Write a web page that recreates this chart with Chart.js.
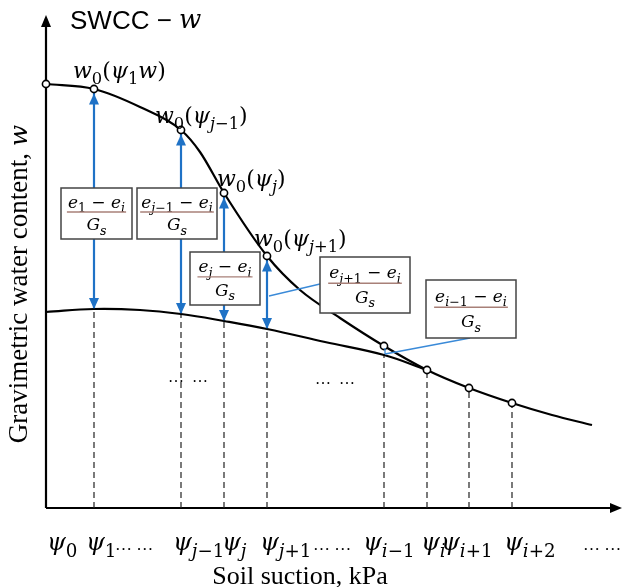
<!DOCTYPE html>
<html><head><meta charset="utf-8">
<script src="https://cdn.jsdelivr.net/npm/chart.js@4.4.1/dist/chart.umd.min.js"></script>
<style>html,body{margin:0;padding:0;background:#fff}#wrap{width:623px;height:587px;position:relative}</style>
</head><body><div id="wrap"><canvas id="c"></canvas></div>
<script>
// ---------- data ----------
const psiNames = ['ψ_{0}','ψ_{1}','ψ_{j−1}','ψ_{j}','ψ_{j+1}','ψ_{i−1}','ψ_{i}','ψ_{i+1}','ψ_{i+2}'];
const suction = [0, 4.8, 13.5, 17.8, 22.1, 33.8, 38.1, 42.3, 46.6];
const swccAtPsi = [42.4, 41.9, 37.8, 31.5, 25.2, 16.2, 13.8, 12.0, 10.5];
const swccSuction = [0, 4.8, 9.4, 13.5, 15.4, 17.8, 22.1, 25.4, 29.4, 33.8, 38.1, 42.3, 46.6, 50.6, 54.6];
const swccWater   = [42.4, 41.9, 40.1, 37.8, 35.6, 31.5, 25.2, 21.8, 19.0, 16.2, 13.8, 12.0, 10.5, 9.3, 8.3];
const baseSuction = [0, 4.8, 9.4, 13.5, 17.8, 22.1, 27.9, 33.8, 38.1];
const baseWater   = [19.6, 19.9, 19.8, 19.4, 18.7, 17.9, 16.6, 15.3, 13.8];
const dashTop     = [null, 19.9, 19.4, 18.7, 17.9, 15.3, 13.8, 12.0, 10.5];
const arrowIdx    = [1, 2, 3, 4];
const pointLabels = ['w_{0}(ψ_{1}w)', 'w_{0}(ψ_{j−1})', 'w_{0}(ψ_{j})', 'w_{0}(ψ_{j+1})'];
const boxNumerators = ['e_{1} − e_{i}', 'e_{j−1} − e_{i}', 'e_{j} − e_{i}', 'e_{j+1} − e_{i}', 'e_{i−1} − e_{i}'];
const boxDenominator = 'G_{s}';
const xTitle = 'Soil suction, kPa';
const yTitle = 'Gravimetric water content, ';
const chartTitle = 'SWCC − ';

// ---------- helpers ----------
const MATH_FONT = '"DejaVu Serif"';
function parseMath(s){
  const out=[]; let i=0;
  while(i<s.length){
    if(s[i]==='_' && s[i+1]==='{'){ const j=s.indexOf('}',i); for(const c of s.slice(i+2,j)) out.push({c,sub:true}); i=j+1; }
    else { out.push({c:s[i],sub:false}); i++; }
  }
  return out;
}
function mathItems(ctx,str,size,subRatio){
  const sub=size*(subRatio||0.72); let w=0;
  const items=parseMath(str).map(t=>{
    const it=/[A-Za-zα-ω]/.test(t.c);
    const f=(it?'italic ':'')+(t.sub?sub:size)+'px '+MATH_FONT;
    ctx.font=f; const wd=ctx.measureText(t.c).width; w+=wd;
    return {c:t.c,f,wd,dy:t.sub?size*0.28:0};
  });
  return {items,w};
}
function drawMath(ctx,str,x,cy,size,align,subRatio){
  const m=mathItems(ctx,str,size,subRatio);
  let cx = align==='center'? x-m.w/2 : (align==='right'? x-m.w : x);
  const base = cy + size*0.35;
  ctx.save(); ctx.fillStyle='#000'; ctx.textBaseline='alphabetic'; ctx.textAlign='left';
  m.items.forEach(it=>{ ctx.font=it.f; ctx.fillText(it.c,cx,base+it.dy); cx+=it.wd; });
  ctx.restore();
  return m.w;
}
function pts(xs,ys){ return xs.map((x,i)=>({x,y:ys[i]})); }

// ---------- datasets ----------
const datasets = [];
datasets.push({data: suction.map((s,i)=>({x:s,y:swccAtPsi[i]})), showLine:false, pointRadius:3.6,
  pointBackgroundColor:'#fff', pointBorderColor:'#000', pointBorderWidth:1.6, order:0});
datasets.push({data: pts(swccSuction,swccWater), showLine:true, borderColor:'#000', borderWidth:2.2,
  pointRadius:0, cubicInterpolationMode:'monotone', order:1});
datasets.push({data: pts(baseSuction,baseWater), showLine:true, borderColor:'#000', borderWidth:2.2,
  pointRadius:0, tension:0.4, order:1});
suction.forEach((s,i)=>{ if(dashTop[i]==null) return;
  datasets.push({data:[{x:s,y:0},{x:s,y:dashTop[i]}], showLine:true, borderColor:'#222', borderWidth:1.2,
    borderDash:[6,4], pointRadius:0, order:3});
});
arrowIdx.forEach(i=>{
  datasets.push({data:[{x:suction[i],y:dashTop[i]},{x:suction[i],y:swccAtPsi[i]}], showLine:true,
    borderColor:'#1f72c6', borderWidth:2.2, pointRadius:0, order:2});
});

// ---------- drawing plugin ----------
const schematic = {
  id:'schematic',
  beforeDatasetsDraw(chart,args,o){
    const ctx=chart.ctx, X=chart.scales.x, Y=chart.scales.y;
    const ox=X.getPixelForValue(0), oy=Y.getPixelForValue(0);
    const tx=X.getPixelForValue(o.xAxisEnd), ty=Y.getPixelForValue(o.yAxisEnd);
    ctx.save(); ctx.strokeStyle='#000'; ctx.fillStyle='#000'; ctx.lineWidth=2.2;
    ctx.beginPath(); ctx.moveTo(ox,oy); ctx.lineTo(ox,ty+10); ctx.stroke();
    ctx.beginPath(); ctx.moveTo(ox,oy); ctx.lineTo(tx-10,oy); ctx.stroke();
    ctx.beginPath(); ctx.moveTo(ox,ty); ctx.lineTo(ox-5,ty+12); ctx.lineTo(ox+5,ty+12); ctx.closePath(); ctx.fill();
    ctx.beginPath(); ctx.moveTo(tx,oy); ctx.lineTo(tx-12,oy-5); ctx.lineTo(tx-12,oy+5); ctx.closePath(); ctx.fill();
    ctx.restore();
  },
  afterDatasetsDraw(chart,args,o){
    const ctx=chart.ctx, X=chart.scales.x, Y=chart.scales.y;
    const px=v=>X.getPixelForValue(v), py=v=>Y.getPixelForValue(v);
    ctx.save();
    // leader lines
    ctx.strokeStyle='#3a8ad8'; ctx.lineWidth=1.3;
    o.leaders.forEach(l=>{ ctx.beginPath(); ctx.moveTo(px(l[0]),py(l[1])); ctx.lineTo(px(l[2]),py(l[3])); ctx.stroke(); });
    // arrowheads
    ctx.fillStyle='#1f72c6';
    arrowIdx.forEach(i=>{
      const x=px(suction[i]), yt=py(swccAtPsi[i])+4.5, yb=py(dashTop[i]);
      ctx.beginPath(); ctx.moveTo(x,yt); ctx.lineTo(x-5,yt+11); ctx.lineTo(x+5,yt+11); ctx.closePath(); ctx.fill();
      ctx.beginPath(); ctx.moveTo(x,yb); ctx.lineTo(x-5,yb-11); ctx.lineTo(x+5,yb-11); ctx.closePath(); ctx.fill();
    });
    // boxes
    o.boxes.forEach((b,k)=>{
      const l=px(b[0]), r=px(b[1]), t=py(b[3]), bt=py(b[2]), h=bt-t, cx=(l+r)/2;
      ctx.fillStyle='#fff'; ctx.fillRect(l,t,r-l,h);
      ctx.strokeStyle='#444'; ctx.lineWidth=1.5; ctx.strokeRect(l,t,r-l,h);
      const w=drawMath(ctx,boxNumerators[k],cx,t+h*0.27,17,'center',0.74);
      ctx.strokeStyle='#a88078'; ctx.lineWidth=1.4;
      ctx.beginPath(); ctx.moveTo(cx-w/2-1,t+h*0.47); ctx.lineTo(cx+w/2+1,t+h*0.47); ctx.stroke();
      drawMath(ctx,boxDenominator,cx,t+h*0.71,17,'center',0.74);
    });
    // point labels
    pointLabels.forEach((s,k)=>{ const a=o.labelAnchors[k]; drawMath(ctx,s,px(a[0]),py(a[1]),22,'left',0.74); });
    // dots inside plot
    o.plotDots.forEach(d=>{ ctx.fillStyle='#000'; ctx.font='16px "Liberation Serif"'; ctx.textAlign='left'; ctx.textBaseline='alphabetic'; ctx.fillText('…  …',px(d[0]),py(d[1])); });
    // psi tick labels
    const oy=py(0);
    psiNames.forEach((s,i)=>{ drawMath(ctx,s,px(suction[i])+o.psiShift[i],oy+34,24,'left',0.76); });
    ctx.fillStyle='#000'; ctx.font='17px "Liberation Serif"'; ctx.textAlign='left'; ctx.textBaseline='alphabetic';
    o.axisDots.forEach(x=>ctx.fillText('… …',px(x),oy+42));
    // axis titles
    ctx.font='26px "Liberation Serif"'; ctx.textAlign='center'; ctx.textBaseline='middle';
    ctx.fillText(xTitle,px(o.xTitleAt),oy+69);
    ctx.save(); ctx.translate(20,py(o.yTitleAt)); ctx.rotate(-Math.PI/2);
    ctx.font='27px "Liberation Serif"'; const tw=ctx.measureText(yTitle).width;
    ctx.font='italic 25px '+MATH_FONT; const ww=ctx.measureText('w').width;
    const start=-(tw+ww)/2;
    ctx.textAlign='left'; ctx.font='27px "Liberation Serif"'; ctx.fillText(yTitle,start,0);
    ctx.font='italic 25px '+MATH_FONT; ctx.fillText('w',start+tw,0);
    ctx.restore();
    // chart title
    ctx.textAlign='left'; ctx.textBaseline='middle'; ctx.font='26px "Liberation Sans"';
    const tl=px(o.titleAt[0]), tt=py(o.titleAt[1]);
    ctx.fillText(chartTitle,tl,tt); const cw=ctx.measureText(chartTitle).width;
    ctx.font='italic 26px '+MATH_FONT; ctx.fillText('w',tl+cw,tt-1);
    ctx.restore();
  }
};

new Chart(document.getElementById('c'),{
  type:'scatter',
  data:{datasets},
  options:{
    responsive:true, maintainAspectRatio:false, animation:false, events:[],
    layout:{padding:0, autoPadding:false},
    scales:{
      x:{type:'linear',min:-4.6,max:57.7,display:false},
      y:{type:'linear',min:-7.9,max:50.8,display:false}
    },
    plugins:{
      legend:{display:false}, tooltip:{enabled:false},
      schematic:{
        xAxisEnd:57.6, yAxisEnd:49.3,
        boxes:[[1.5,8.6,26.9,32.0],[9.1,17.1,26.9,32.0],[14.4,21.4,20.3,25.6],[27.4,36.4,19.5,25.1],[38.0,47.0,17.0,22.8]],
        leaders:[[27.4,22.4,22.3,21.2],[42.4,17.0,33.9,15.4],[33.9,16.0,33.9,15.4]],
        labelAnchors:[[2.7,43.8],[10.9,39.3],[17.1,33.0],[20.8,27.0]],
        plotDots:[[12.2,12.6],[26.9,12.4]],
        psiShift:[1,-8,-8,-2,-7,-21,-6,-28,-8],
        axisDots:[6.9,26.7,53.7],
        xTitleAt:25.4, yTitleAt:22.4,
        titleAt:[2.4,48.6]
      }
    }
  },
  plugins:[schematic]
});
</script></body></html>
